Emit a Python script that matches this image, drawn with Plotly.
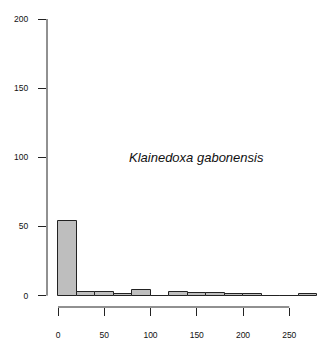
import plotly.graph_objects as go

# Data
bin_edges = [0, 20, 40, 60, 80, 100, 120, 140, 160, 180, 200, 220, 240, 260, 280]
counts = [54, 3, 3, 1, 4, 0, 3, 2, 2, 1, 1, 0, 0, 1]
x_ticks = [0, 50, 100, 150, 200, 250]
y_ticks = [0, 50, 100, 150, 200]
species = "Klainedoxa gabonensis"
label_pos = (150, 100)

centers = [(a + b) / 2 for a, b in zip(bin_edges[:-1], bin_edges[1:])]
widths = [b - a for a, b in zip(bin_edges[:-1], bin_edges[1:])]

fig = go.Figure()
fig.add_trace(go.Bar(
    x=centers, y=counts, width=widths,
    marker=dict(color="#bebebe", line=dict(color="#222222", width=1)),
    hoverinfo="skip",
))

tick_font = dict(family="Liberation Sans, Arial, sans-serif", size=8.5, color="#111111")

# page body has an 8px default margin, so the figure is 8px smaller and offset
fig.update_layout(
    width=317, height=339,
    margin=dict(l=32, r=8, t=6, b=40, pad=0),
    paper_bgcolor="white", plot_bgcolor="white",
    showlegend=False,
    bargap=0,
    xaxis=dict(
        range=[-11.9, 280], tickvals=x_ticks, ticktext=[str(v) for v in x_ticks],
        ticks="outside", ticklen=8, tickwidth=1, tickcolor="#222222",
        showgrid=False, zeroline=False, showline=False,
        tickfont=tick_font, ticklabelstandoff=12,
    ),
    yaxis=dict(
        range=[-8.2, 200], tickvals=y_ticks, ticktext=[str(v) for v in y_ticks],
        ticks="outside", ticklen=8, tickwidth=1, tickcolor="#222222",
        showgrid=False, zeroline=False, showline=False,
        tickfont=tick_font, ticklabelstandoff=8,
    ),
    shapes=[
        dict(type="line", xref="x", yref="paper", x0=x_ticks[0], x1=x_ticks[-1], y0=0, y1=0,
             line=dict(color="#222222", width=1)),
        dict(type="line", xref="paper", yref="y", x0=0, x1=0, y0=y_ticks[0], y1=y_ticks[-1],
             line=dict(color="#222222", width=1)),
    ],
    annotations=[dict(
        x=label_pos[0], y=label_pos[1], xref="x", yref="y", text="<i>" + species + "</i>",
        showarrow=False, font=dict(family="Liberation Sans, Arial, sans-serif", size=13, color="#111111"),
    )],
)

fig.write_html("out.html")
